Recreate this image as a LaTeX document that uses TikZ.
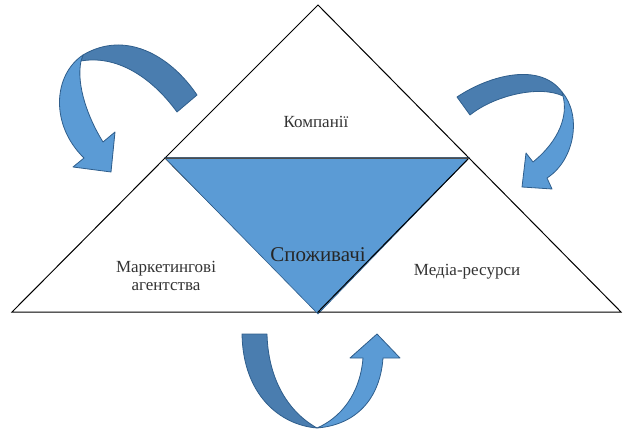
\documentclass[tikz,border=0pt]{standalone}
\usepackage{fontspec}
\setmainfont{Liberation Serif}
\usetikzlibrary{positioning}
\definecolor{arrowLight}{HTML}{5B9BD5}
\definecolor{arrowDark}{HTML}{4A7DAF}
\definecolor{arrowLine}{HTML}{2F5E8C}
\begin{document}
\begin{tikzpicture}[x=1pt, y=-1pt]
\tikzstyle{tri} = [draw=black, line width=1pt, line join=miter]
\tikzstyle{front} = [fill=arrowLight, draw=arrowLine, line width=0.8pt, line join=round]
\tikzstyle{back} = [fill=arrowDark, draw=arrowLine, line width=0.8pt, line join=round]
\tikzstyle{label} = [font=\fontsize{17}{18}\selectfont, align=center, text=black!80]
\useasboundingbox (0,0) rectangle (623,435);
\coordinate (T0) at (318,5);
\coordinate (T1) at (165,158);
\coordinate (T2) at (469,158);
\coordinate (L1) at (12,312);
\coordinate (M1) at (318,312);
\coordinate (R1) at (621,312);
\draw[tri] (T1) -- (L1) -- (M1) -- cycle;
\draw[tri] (T0) -- (T1) -- (T2) -- cycle;
\fill[arrowLight, draw=arrowLine, line width=0.6pt] (T1) -- (T2) -- ([yshift=-2]M1) -- cycle;
\draw[tri] (T2) -- (M1) -- (R1) -- cycle;
\draw[black!70, line width=0.6pt] (T1) -- (T2);
\node[label] (K) at (316,122) {Компанії};
\node[label] (A) at (166,276) {Маркетингові\\агентства};
\node[label] (R) at (467,272) {Медіа-ресурси};
\node[label, font=\fontsize{21}{23}\selectfont, text=black!85] (S) at (318,255) {Споживачі};
\draw[back] (197,95) .. controls (170,55) and (125,30) .. (83,55) -- (81,61) .. controls (115,55) and (150,75) .. (177,112) -- cycle;
\draw[front] (83,55) .. controls (53,75) and (50,125) .. (84,158) -- (73,167) -- (111,172) -- (115,132) -- (103,142) .. controls (88,118) and (76,85) .. (81,61) -- cycle;
\draw[back] (457,97) .. controls (490,75) and (540,62) .. (562,92) -- (563,96) .. controls (540,85) and (495,95) .. (470,115) -- cycle;
\draw[front] (562,92) .. controls (582,115) and (575,160) .. (547,178) -- (552,189) -- (522,187) -- (526,153) -- (533,162) .. controls (560,140) and (568,115) .. (563,96) -- cycle;
\draw[back] (242,334) -- (267,334) .. controls (268,375) and (285,410) .. (317,428) .. controls (280,425) and (243,395) .. (242,334) -- cycle;
\draw[front] (317,428) .. controls (355,425) and (380,400) .. (383,358) -- (400,358) -- (377,334) -- (350,358) -- (363,358) .. controls (360,395) and (340,418) .. (317,428) -- cycle;
\end{tikzpicture}
\end{document}
